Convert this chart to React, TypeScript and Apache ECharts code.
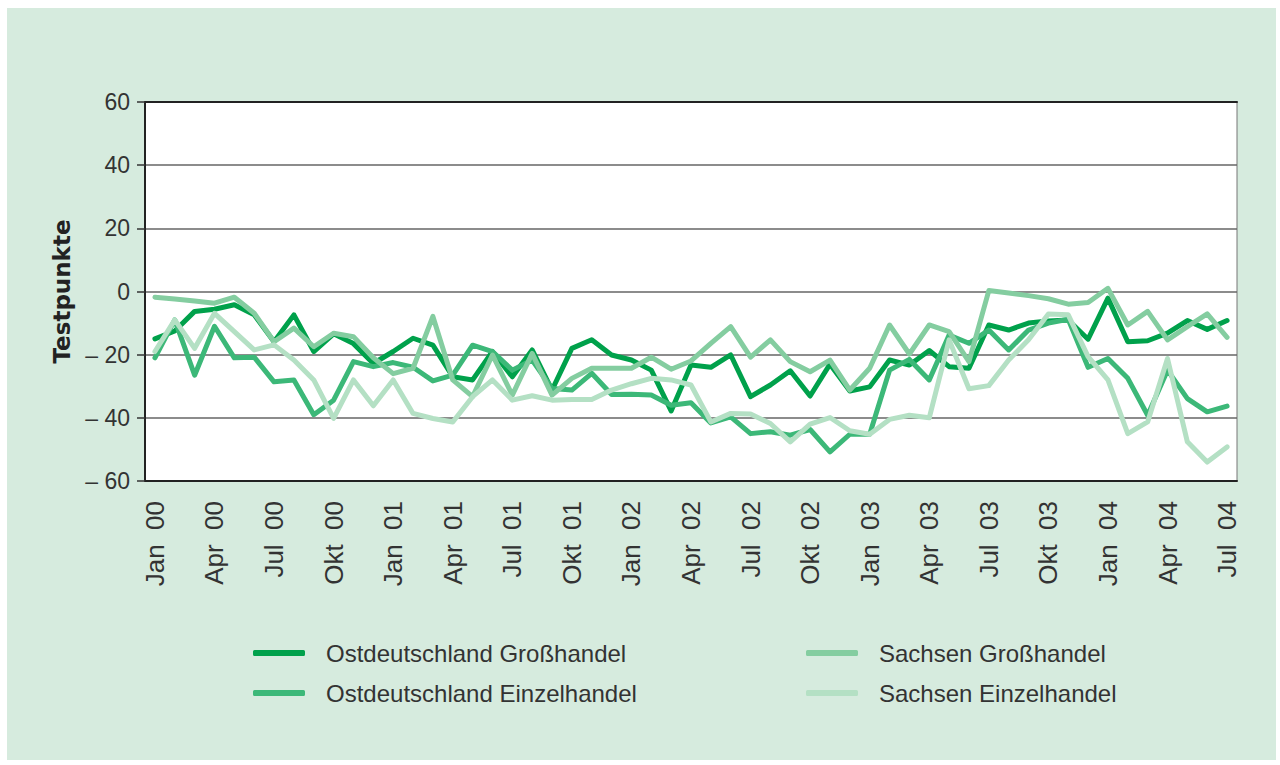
import React, { useEffect, useRef } from "react";
import * as echarts from "echarts";

const categories = [
  "Jan 00", "Feb 00", "Mär 00", "Apr 00", "Mai 00", "Jun 00", "Jul 00", "Aug 00", "Sep 00", "Okt 00", "Nov 00", "Dez 00",
  "Jan 01", "Feb 01", "Mär 01", "Apr 01", "Mai 01", "Jun 01", "Jul 01", "Aug 01", "Sep 01", "Okt 01", "Nov 01", "Dez 01",
  "Jan 02", "Feb 02", "Mär 02", "Apr 02", "Mai 02", "Jun 02", "Jul 02", "Aug 02", "Sep 02", "Okt 02", "Nov 02", "Dez 02",
  "Jan 03", "Feb 03", "Mär 03", "Apr 03", "Mai 03", "Jun 03", "Jul 03", "Aug 03", "Sep 03", "Okt 03", "Nov 03", "Dez 03",
  "Jan 04", "Feb 04", "Mär 04", "Apr 04", "Mai 04", "Jun 04", "Jul 04",
];

const ostGross = [
  -15, -12.5, -6.3, -5.6, -4.2, -7.4, -15.9, -7.4, -19, -13.4, -16.5, -22.8,
  -19, -14.8, -17, -27, -28, -19, -27, -18.5, -31.2, -18, -15.3, -20.1,
  -21.7, -24.9, -37.8, -23.3, -24, -20.1, -33.3, -29.6, -25.1, -33.1, -23, -31.5,
  -30.2, -21.7, -23.3, -18.7, -23.8, -24.3, -10.6, -12.2, -10, -9.3, -9, -15.1,
  -2.1, -15.9, -15.6, -13.2, -9.2, -12, -9.2,
];

const ostEinzel = [
  -21, -9, -26.5, -11, -21, -20.8, -28.6, -28, -39, -34.4, -22.2, -23.8,
  -22.5, -24, -28.3, -26.5, -17, -19, -24.9, -21.7, -30.7, -31.2, -25.9, -32.6,
  -32.5, -32.8, -36, -35.2, -41.6, -39.7, -45, -44.4, -45.5, -43.7, -50.8, -45.2,
  -45.2, -24.9, -21.5, -28, -13.8, -16.4, -12.2, -18.5, -12.2, -10, -8.8, -24,
  -21.2, -27.5, -39.2, -24.9, -33.9, -38.1, -36.3,
];

const sachsenGross = [
  -1.8, -2.4, -3, -3.7, -1.8, -6.9, -15.9, -11.6, -17.5, -13.2, -14.3, -21,
  -26, -24.3, -7.9, -28, -33.3, -20.1, -32.8, -19.6, -32.8, -27.5, -24.3, -24.3,
  -24.3, -20.8, -24.6, -22, -16.4, -11.1, -20.8, -15.3, -22.2, -25.4, -21.7, -31.2,
  -24.3, -10.6, -19.8, -10.6, -12.7, -22.2, 0.3, -0.5, -1.3, -2.3, -4, -3.5,
  1, -10.6, -6.3, -15.3, -11.1, -7.1, -14.5,
];

const sachsenEinzel = [
  -19, -9, -18, -6.9, -12.7, -18.5, -16.9, -21.7, -28, -40.2, -28, -36.2,
  -28, -38.6, -40.2, -41.3, -33.3, -28, -34.4, -33, -34.4, -34.2, -34.2, -31.2,
  -29.2, -27.5, -28, -29.6, -41.3, -38.6, -38.8, -41.8, -47.6, -42, -39.9, -44.1,
  -45.2, -40.5, -39.2, -40, -15.3, -30.8, -29.8, -21.7, -15.3, -7.1, -7.4, -20.6,
  -28, -45, -41.3, -21.2, -47.6, -54, -49.2,
];

const seriesNames = [
  "Ostdeutschland Großhandel",
  "Ostdeutschland Einzelhandel",
  "Sachsen Großhandel",
  "Sachsen Einzelhandel",
];
const seriesValues = [ostGross, ostEinzel, sachsenGross, sachsenEinzel];
const seriesColors = ["#00a14b", "#3cb878", "#84cda0", "#b4e0c4"];

const FONT = "'Liberation Sans', Arial, Helvetica, sans-serif";

export default function App() {
  const ref = useRef<HTMLDivElement>(null);

  useEffect(() => {
    if (!ref.current) return;
    const chart = echarts.init(ref.current, null, { renderer: "svg" });

    const legendCommon = {
      orient: "vertical",
      icon: "roundRect",
      itemWidth: 52,
      itemHeight: 6,
      itemGap: 16,
      padding: 0,
      top: 633,
      textStyle: {
        fontFamily: FONT,
        fontSize: 24,
        color: "#333",
        padding: [0, 0, 0, 16],
      },
    };

    chart.setOption({
      animation: false,
      textStyle: { fontFamily: FONT },
      grid: {
        left: 138,
        top: 94,
        right: 39,
        bottom: 279,
        show: true,
        backgroundColor: "#ffffff",
        borderColor: "#777",
        borderWidth: 1,
      },
      legend: [
        { ...legendCommon, left: 246, data: [seriesNames[0], seriesNames[1]] },
        { ...legendCommon, left: 799, data: [seriesNames[2], seriesNames[3]] },
      ],
      xAxis: [
        {
          type: "category",
          data: categories,
          boundaryGap: true,
          axisLine: { onZero: false, lineStyle: { color: "#222", width: 2 } },
          axisTick: {
            interval: 2,
            length: 8,
            alignWithLabel: false,
            lineStyle: { color: "#333", width: 1.5 },
          },
          axisLabel: {
            interval: 2,
            rotate: 90,
            margin: 20,
            fontSize: 26,
            color: "#333",
            fontFamily: FONT,
            formatter: (v: string) => v.replace(" ", "\u00a0 "),
          },
          splitLine: { show: false },
        },
        {
          type: "category",
          data: categories,
          position: "top",
          axisLine: { onZero: false, lineStyle: { color: "#222", width: 2 } },
          axisTick: { show: false },
          axisLabel: { show: false },
          splitLine: { show: false },
        },
      ],
      yAxis: {
        type: "value",
        min: -60,
        max: 60,
        interval: 20,
        name: "Testpunkte",
        nameLocation: "middle",
        nameGap: 72,
        nameTextStyle: {
          fontFamily: "'DejaVu Sans', sans-serif",
          fontWeight: "bold",
          fontSize: 23,
          color: "#222",
        },
        axisLine: { show: true, onZero: false, lineStyle: { color: "#222", width: 2 } },
        axisTick: { show: true, length: 8, lineStyle: { color: "#333", width: 1.5 } },
        axisLabel: {
          margin: 15,
          fontSize: 23,
          color: "#333",
          fontFamily: FONT,
          formatter: (v: number) => (v < 0 ? "\u2013 " + Math.abs(v) : String(v)),
        },
        splitLine: { show: true, lineStyle: { color: "#666", width: 1.5 } },
      },
      series: seriesNames.map((name, i) => ({
        name,
        type: "line",
        data: seriesValues[i],
        color: seriesColors[i],
        showSymbol: false,
        symbol: "none",
        lineStyle: { width: 5, color: seriesColors[i], cap: "round", join: "round" },
        emphasis: { disabled: true },
      })),
    });

    return () => chart.dispose();
  }, []);

  return (
    <div
      style={{
        position: "fixed",
        left: 0,
        top: 0,
        width: 1280,
        height: 765,
        background: "#ffffff",
      }}
    >
      <div
        style={{
          position: "absolute",
          left: 7,
          top: 8,
          width: 1269,
          height: 752,
          background: "#d6ebde",
        }}
      >
        <div ref={ref} style={{ width: 1269, height: 752 }} />
      </div>
    </div>
  );
}
